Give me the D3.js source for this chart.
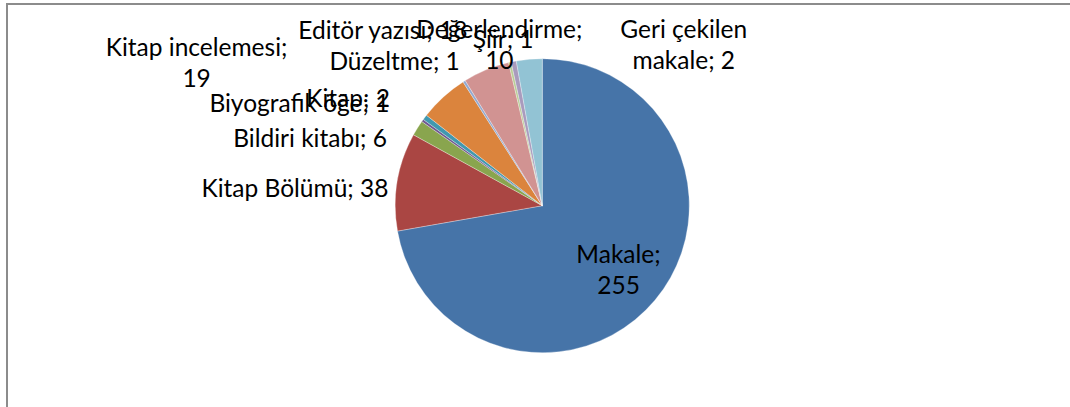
<!DOCTYPE html>
<html>
<head>
<meta charset="utf-8">
<script src="https://cdn.jsdelivr.net/npm/d3@7"></script>
<style>
  html, body { margin: 0; padding: 0; background: #fff; }
  svg text { font-family: Lato, 'Open Sans', sans-serif; fill: #000; }
</style>
</head>
<body>
<div id="container"></div>
<script>
// veri
const categories = [
  'Makale', 'Kitap Bölümü', 'Bildiri kitabı', 'Biyografik öğe', 'Kitap',
  'Kitap incelemesi', 'Düzeltme', 'Editör yazısı', 'Şiir', 'Geri çekilen makale', 'Değerlendirme',
];
const values = [255, 38, 6, 1, 2, 19, 1, 18, 1, 2, 10];
const colors = [
  '#4674A8', '#AA4643', '#89A54E', '#71588F', '#4198AF', '#DB843D',
  '#93A9CF', '#D19392', '#B9CD96', '#A99BBD', '#92C3D4',
];

// etiket yerleşimi (Excel "best fit" kaydırmaları)
const labelLayout = [
  { anchor: 'middle', dx: -44, dy: -44, firstWords: 1 },
  { anchor: 'end', dx: 1, dy: 17 },
  { anchor: 'end', dx: -22, dy: 24 },
  { anchor: 'end', dx: -25, dy: -3 },
  { anchor: 'end', dx: -27, dy: -4.5 },
  { anchor: 'middle', dx: -240, dy: -34, firstWords: 2 },
  { anchor: 'end', dx: 1, dy: -3 },
  { anchor: 'end', dx: -15, dy: -22 },
  { anchor: 'middle', dx: -4.5, dy: -5 },
  { anchor: 'middle', dx: 172, dy: -14, firstWords: 2 },
  { anchor: 'middle', dx: -29, dy: -11, firstWords: 1 },
];

const width = 1070;
const height = 407;
const cx = 542.3;
const cy = 205.7;
const radius = 147;
const labelRadius = 157;
const fontSize = 24.5;
const lineHeight = 31;

const svg = d3.select('#container')
  .append('svg')
  .attr('width', width)
  .attr('height', height);

// çerçeve
svg.append('rect')
  .attr('x', 7)
  .attr('y', 4)
  .attr('width', width + 20)
  .attr('height', height + 20)
  .attr('fill', '#fff')
  .attr('stroke', '#8c8c8c')
  .attr('stroke-width', 2);

const data = categories.map((c, i) => ({ name: c, value: values[i], i }));

const pie = d3.pie()
  .sort(null)
  .value((d) => d.value)
  .startAngle(0)
  .endAngle(2 * Math.PI);

const arc = d3.arc().innerRadius(0).outerRadius(radius);
const arcs = pie(data);

const g = svg.append('g').attr('transform', `translate(${cx},${cy})`);

g.selectAll('path.slice')
  .data(arcs)
  .enter()
  .append('path')
  .attr('class', 'slice')
  .attr('d', arc)
  .attr('fill', (d) => colors[d.data.i])
  .attr('stroke', '#fff')
  .attr('stroke-opacity', 0.5)
  .attr('stroke-width', 0.6);

// veri etiketleri
const labels = g.selectAll('text.label')
  .data(arcs)
  .enter()
  .append('text')
  .attr('class', 'label')
  .attr('font-size', fontSize)
  .attr('text-anchor', (d) => labelLayout[d.data.i].anchor)
  .attr('transform', (d) => {
    const a = (d.startAngle + d.endAngle) / 2;
    const l = labelLayout[d.data.i];
    const x = Math.sin(a) * labelRadius + l.dx;
    const y = -Math.cos(a) * labelRadius + l.dy;
    return `translate(${x},${y})`;
  });

labels.each(function (d) {
  const l = labelLayout[d.data.i];
  const words = `${d.data.name}; ${d.data.value}`.split(' ');
  const lines = l.firstWords
    ? [words.slice(0, l.firstWords).join(' '), words.slice(l.firstWords).join(' ')]
    : [words.join(' ')];
  d3.select(this)
    .selectAll('tspan')
    .data(lines)
    .enter()
    .append('tspan')
    .attr('x', 0)
    .attr('y', (_, k) => k * lineHeight)
    .text((t) => t);
});
</script>
</body>
</html>
